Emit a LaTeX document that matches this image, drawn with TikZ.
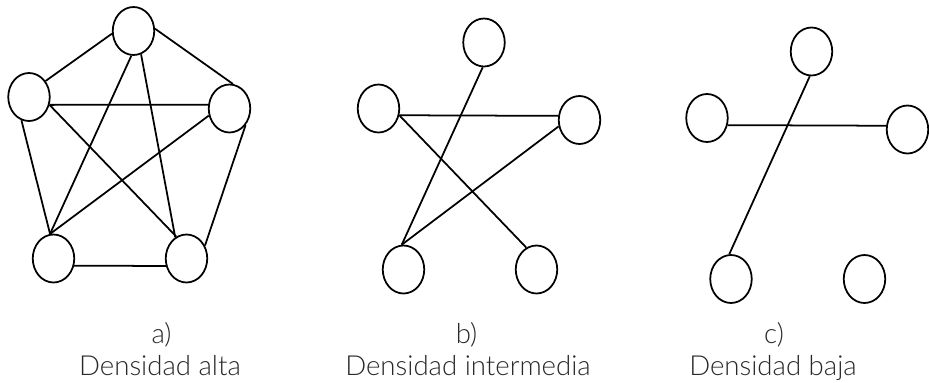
\documentclass[tikz,border=0pt]{standalone}
\usepackage{fontspec}
\setmainfont{Lato Light}
\usepackage{tikz}
\usetikzlibrary{shapes.geometric}
\definecolor{labelgray}{RGB}{40,40,40}

\begin{document}
\begin{tikzpicture}[
  vertex/.style={draw, ellipse, line width=1pt, minimum width=0.83cm, minimum height=0.96cm, inner sep=0pt},
  link/.style={line width=1pt},
  caption/.style={anchor=base, text=labelgray, font=\fontsize{15.7}{18}\selectfont, inner sep=0pt}
]
\useasboundingbox (0,0) rectangle (18.58,7.64);
% a) high density
\node[vertex] (aT) at (2.67,7.02) {};
\node[vertex] (aL) at (0.58,5.70) {};
\node[vertex] (aR) at (4.59,5.47) {};
\node[vertex] (aBL) at (1.07,2.47) {};
\node[vertex] (aBR) at (3.73,2.47) {};
\draw[link] (aT.187) -- (aL.44);
\draw[link] (aT.6) -- (aR.82);
\draw[link] (aL.-21) -- (aR.170);
\draw[link] (aL.252) -- (aBL.98);
\draw[link] (aL.-21) -- (aBR.115);
\draw[link] (aT.265) -- (aBL.98);
\draw[link] (aT.-72) -- (aBR.118);
\draw[link] (aR.199) -- (aBL.98);
\draw[link] (aR.-46) -- (aBR.35);
\draw[link] (aBL.-19.5) -- (aBR.200);
\node[caption] (alabel) at (3.23,0.77) {a)};
\node[caption] (atext) at (3.20,0.14) {Densidad alta};
% b) intermediate density
\node[vertex] (bT) at (9.68,6.79) {};
\node[vertex] (bL) at (7.57,5.47) {};
\node[vertex] (bR) at (11.59,5.24) {};
\node[vertex] (bBL) at (8.07,2.25) {};
\node[vertex] (bBR) at (10.73,2.25) {};
\draw[link] (bT.267) -- (bBL.94);
\draw[link] (bL.-18) -- (bR.169);
\draw[link] (bL.-18) -- (bBR.115);
\draw[link] (bR.197) -- (bBL.94);
\node[caption] (blabel) at (9.33,0.77) {b)};
\node[caption] (btext) at (9.36,0.14) {Densidad intermedia};
% c) low density
\node[vertex] (cT) at (16.23,6.61) {};
\node[vertex] (cL) at (14.14,5.28) {};
\node[vertex] (cR) at (18.15,5.05) {};
\node[vertex] (cBL) at (14.62,2.06) {};
\node[vertex] (cBR) at (17.29,2.06) {};
\draw[link] (cT.266) -- (cBL.94);
\draw[link] (cL.-19) -- (cR.170);
\node[caption] (clabel) at (15.48,0.77) {c)};
\node[caption] (ctext) at (15.46,0.14) {Densidad baja};
\end{tikzpicture}
\end{document}
